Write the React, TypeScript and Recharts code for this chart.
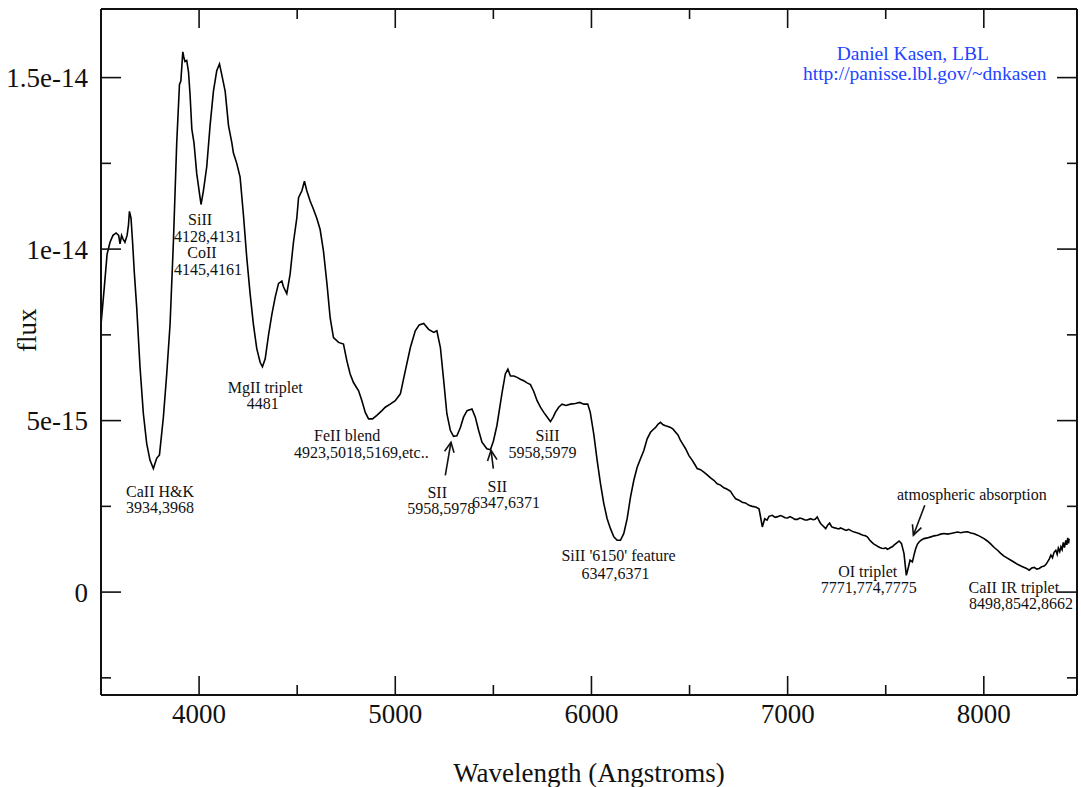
import React from 'react'
import { LineChart, Line, XAxis, YAxis, ReferenceDot, ReferenceLine } from 'recharts'

// Wavelength (Angstroms) and flux (in units of 1e-15)
const wavelengths = [
  3500, 3517, 3531, 3546, 3561, 3577, 3590, 3597, 3605, 3612, 3622, 3633, 3640, 3645, 3653, 3661, 3670, 3682, 3699, 3716,
  3733, 3750, 3767, 3775, 3784, 3798, 3818, 3835, 3852, 3869, 3886, 3900, 3907, 3917, 3922, 3928, 3937, 3946, 3954, 3963,
  3974, 3988, 4005, 4010, 4022, 4039, 4056, 4073, 4090, 4104, 4115, 4133, 4150, 4167, 4175, 4192, 4209, 4226, 4243, 4260,
  4277, 4294, 4311, 4323, 4337, 4354, 4371, 4388, 4405, 4422, 4430, 4447, 4464, 4481, 4498, 4507, 4524, 4537, 4549, 4566,
  4583, 4600, 4617, 4634, 4652, 4668, 4685, 4711, 4736, 4753, 4770, 4787, 4813, 4830, 4847, 4864, 4884, 4906, 4932, 4949,
  4974, 5000, 5026, 5051, 5077, 5102, 5122, 5145, 5170, 5196, 5212, 5230, 5247, 5263, 5281, 5297, 5314, 5332, 5348, 5366,
  5391, 5408, 5425, 5442, 5467, 5485, 5500, 5518, 5544, 5561, 5574, 5587, 5605, 5621, 5640, 5655, 5672, 5689, 5706, 5723,
  5740, 5757, 5775, 5791, 5805, 5816, 5833, 5850, 5870, 5893, 5918, 5940, 5961, 5981, 5994, 6012, 6029, 6046, 6063, 6080,
  6097, 6114, 6131, 6148, 6165, 6182, 6199, 6216, 6233, 6250, 6267, 6284, 6301, 6315, 6327, 6340, 6352, 6365, 6378, 6390,
  6403, 6416, 6429, 6441, 6454, 6467, 6480, 6497, 6514, 6527, 6539, 6556, 6573, 6590, 6607, 6624, 6641, 6658, 6675, 6692,
  6709, 6722, 6735, 6752, 6768, 6785, 6803, 6820, 6837, 6854, 6862, 6871, 6883, 6895, 6905, 6922, 6936, 6950, 6962, 6973,
  6987, 7000, 7012, 7023, 7037, 7050, 7062, 7075, 7088, 7100, 7117, 7130, 7140, 7151, 7160, 7168, 7182, 7194, 7204, 7214,
  7225, 7236, 7248, 7260, 7270, 7279, 7290, 7300, 7310, 7321, 7330, 7340, 7352, 7364, 7375, 7385, 7396, 7406, 7418, 7430,
  7440, 7449, 7460, 7470, 7480, 7491, 7500, 7508, 7517, 7525, 7535, 7542, 7555, 7568, 7580, 7593, 7605, 7614, 7624, 7636,
  7645, 7653, 7662, 7670, 7682, 7695, 7712, 7730, 7747, 7764, 7780, 7797, 7815, 7832, 7849, 7866, 7883, 7900, 7917, 7934,
  7951, 7968, 7985, 8001, 8018, 8036, 8053, 8070, 8086, 8103, 8120, 8138, 8155, 8172, 8189, 8206, 8218, 8231, 8244, 8257,
  8270, 8282, 8295, 8308, 8317, 8325, 8334, 8342, 8350, 8358, 8367, 8374, 8380, 8387, 8393, 8399, 8405, 8411, 8418, 8423,
  8428, 8432, 8435,
]
const flux = [
  7.8, 8.9, 9.85, 10.2, 10.4, 10.47, 10.4, 10.15, 10.4, 10.3, 10.2, 10.4, 10.7, 11.1, 10.9, 10.2, 9.3, 8.3, 6.55, 5.2,
  4.33, 3.84, 3.6, 3.75, 3.9, 4.0, 5.1, 6.36, 7.8, 10.2, 13.1, 14.8, 14.9, 15.75, 15.6, 15.47, 15.5, 15.17, 14.5, 13.5,
  13.1, 12.2, 11.5, 11.3, 11.7, 12.4, 13.6, 14.6, 15.2, 15.4, 15.1, 14.6, 13.6, 13.1, 12.8, 12.5, 12.1, 11.0, 9.75, 8.7,
  7.8, 7.1, 6.7, 6.57, 6.8, 7.5, 8.1, 8.6, 9.0, 9.07, 8.9, 8.7, 9.27, 10.2, 10.9, 11.5, 11.7, 11.98, 11.7, 11.4,
  11.16, 10.9, 10.57, 9.94, 8.98, 8.0, 7.42, 7.28, 7.23, 6.75, 6.36, 6.11, 5.87, 5.58, 5.24, 5.05, 5.05, 5.15, 5.29, 5.39,
  5.48, 5.58, 5.78, 6.45, 7.13, 7.62, 7.79, 7.83, 7.66, 7.57, 7.62, 7.13, 6.16, 5.2, 4.71, 4.54, 4.56, 4.8, 5.1, 5.29,
  5.34, 5.1, 4.71, 4.37, 4.18, 4.15, 4.4, 4.85, 5.8, 6.36, 6.5, 6.3, 6.3, 6.26, 6.2, 6.16, 6.1, 6.05, 5.85, 5.58,
  5.39, 5.24, 5.1, 4.97, 5.1, 5.24, 5.39, 5.48, 5.44, 5.48, 5.5, 5.53, 5.48, 5.48, 5.24, 4.6, 3.84, 3.16, 2.58, 2.14,
  1.85, 1.61, 1.51, 1.51, 1.71, 2.14, 2.77, 3.26, 3.64, 3.89, 4.13, 4.47, 4.66, 4.74, 4.8, 4.9, 4.95, 4.88, 4.85, 4.83,
  4.8, 4.75, 4.66, 4.58, 4.42, 4.3, 4.18, 3.98, 3.84, 3.72, 3.6, 3.57, 3.5, 3.42, 3.33, 3.26, 3.16, 3.12, 3.04, 3.0,
  2.94, 2.82, 2.72, 2.68, 2.62, 2.6, 2.53, 2.5, 2.48, 2.43, 2.19, 1.9, 2.14, 2.1, 2.21, 2.24, 2.18, 2.2, 2.23, 2.21,
  2.17, 2.16, 2.2, 2.17, 2.12, 2.12, 2.16, 2.14, 2.1, 2.1, 2.14, 2.11, 2.12, 2.19, 2.08, 2.0, 1.92, 1.85, 1.95, 2.01,
  1.9, 1.88, 1.86, 1.84, 1.87, 1.85, 1.82, 1.8, 1.83, 1.8, 1.77, 1.75, 1.73, 1.71, 1.68, 1.66, 1.64, 1.61, 1.52, 1.45,
  1.4, 1.37, 1.33, 1.3, 1.28, 1.27, 1.29, 1.25, 1.27, 1.3, 1.33, 1.37, 1.43, 1.49, 1.42, 1.13, 0.49, 0.69, 0.93, 0.88,
  1.1, 1.27, 1.4, 1.46, 1.52, 1.56, 1.58, 1.61, 1.64, 1.66, 1.69, 1.71, 1.69, 1.71, 1.73, 1.75, 1.73, 1.75, 1.76, 1.72,
  1.7, 1.66, 1.61, 1.56, 1.49, 1.4, 1.3, 1.22, 1.13, 1.05, 0.99, 0.93, 0.87, 0.81, 0.76, 0.72, 0.69, 0.64, 0.7, 0.72,
  0.67, 0.69, 0.74, 0.76, 0.81, 0.88, 0.97, 1.08, 1.0, 1.16, 1.22, 1.1, 1.28, 1.18, 1.32, 1.24, 1.45, 1.3, 1.51, 1.38,
  1.58, 1.42, 1.56,
]

const xTicks = [4000, 4500, 5000, 5500, 6000, 6500, 7000, 7500, 8000]
const yTicks = [-2.5, 0, 2.5, 5, 7.5, 10, 12.5, 15]
const yTickLabels: Record<string, string> = { '0': '0', '5': '5e-15', '10': '1e-14', '15': '1.5e-14' }

// line annotations: text, wavelength, flux (1e-15)
const labelTexts = [
  'SiII', '4128,4131', 'CoII', '4145,4161', 'MgII triplet', '4481', 'FeII blend', '4923,5018,5169,etc..',
  'CaII H&K', '3934,3968', 'SII', '5958,5978', 'SII', '6347,6371', 'SiII', '5958,5979',
  "SiII '6150' feature", '6347,6371', 'atmospheric absorption', 'OI triplet', '7771,774,7775',
  'CaII IR triplet', '8498,8542,8662',
]
const labelWl = [
  4005, 4046, 4015, 4046, 4337, 4324, 4755, 4827, 3801, 3801, 5214, 5235, 5520, 5565, 5776, 5750,
  6138, 6122, 7939, 7408, 7413, 8153, 8189,
]
const labelFlux = [
  10.87, 10.38, 9.9, 9.42, 5.96, 5.49, 4.56, 4.07, 2.94, 2.47, 2.91, 2.44, 3.08, 2.62, 4.56, 4.07,
  1.08, 0.55, 2.85, 0.61, 0.15, 0.15, -0.32,
]

const creditTexts = ['Daniel Kasen, LBL', 'http://panisse.lbl.gov/~dnkasen']
const creditWl = [7638, 7699]
const creditFlux = [15.7, 15.12]

// arrows: tail -> head
const arrowTailWl = [5255, 5500, 7699]
const arrowTailFlux = [3.4, 3.6, 2.53]
const arrowHeadWl = [5284, 5488, 7641]
const arrowHeadFlux = [4.37, 4.13, 1.66]

const data = wavelengths.map((wl, i) => ({ wl, flux: flux[i] }))

const FONT = '"Liberation Serif", "Times New Roman", serif'
const INK = '#111'

const BottomTick = (props: any) => {
  const { x, y, payload } = props
  const major = payload.value % 1000 === 0
  return (
    <g>
      <line x1={x} y1={y} x2={x} y2={y - (major ? 19 : 10)} stroke={INK} strokeWidth={1.6} />
      {major && (
        <text x={x} y={y + 28} textAnchor="middle" fontFamily={FONT} fontSize={27} fill={INK}>
          {payload.value}
        </text>
      )}
    </g>
  )
}

const TopTick = (props: any) => {
  const { x, y, payload } = props
  const major = payload.value % 1000 === 0
  return <line x1={x} y1={y} x2={x} y2={y + (major ? 19 : 10)} stroke={INK} strokeWidth={1.6} />
}

const LeftTick = (props: any) => {
  const { x, y, payload } = props
  const major = payload.value % 5 === 0
  const label = yTickLabels[String(payload.value)]
  return (
    <g>
      <line x1={x} y1={y} x2={x + (major ? 20 : 10)} y2={y} stroke={INK} strokeWidth={1.6} />
      {label && (
        <text x={x - 13} y={y} dy="0.35em" textAnchor="end" fontFamily={FONT} fontSize={27} fill={INK}>
          {label}
        </text>
      )}
    </g>
  )
}

const RightTick = (props: any) => {
  const { x, y, payload } = props
  const major = payload.value % 5 === 0
  return <line x1={x} y1={y} x2={x - (major ? 20 : 10)} y2={y} stroke={INK} strokeWidth={1.6} />
}

const textShape = (text: string, size: number, color: string) => (p: any) => (
  <text x={p.cx} y={p.cy} dy="0.35em" textAnchor="middle" fontFamily={FONT} fontSize={size} fill={color}>
    {text}
  </text>
)

const arrowShape = (p: any) => {
  const { x1, y1, x2, y2 } = p
  const ang = Math.atan2(y2 - y1, x2 - x1)
  const len = 11
  const spread = 0.45
  const ax = x2 - len * Math.cos(ang - spread)
  const ay = y2 - len * Math.sin(ang - spread)
  const bx = x2 - len * Math.cos(ang + spread)
  const by = y2 - len * Math.sin(ang + spread)
  return (
    <g stroke={INK} strokeWidth={1.6} fill="none">
      <line x1={x1} y1={y1} x2={x2} y2={y2} />
      <polyline points={`${ax},${ay} ${x2},${y2} ${bx},${by}`} />
    </g>
  )
}

export default function App() {
  return (
    <div style={{ position: 'absolute', left: 0, top: 0, width: 1081, height: 787, background: '#fff' }}>
      <LineChart width={1081} height={787} data={data} margin={{ top: 8, right: 3, left: 1, bottom: 32 }}>
        <XAxis
          xAxisId="b"
          dataKey="wl"
          type="number"
          domain={[3500, 8475]}
          allowDataOverflow
          ticks={xTicks}
          tick={<BottomTick />}
          tickSize={0}
          tickMargin={0}
          tickLine={false}
          height={60}
          axisLine={{ stroke: INK, strokeWidth: 2 }}
          label={{ value: 'Wavelength (Angstroms)', position: 'insideBottom', offset: -27, fontFamily: FONT, fontSize: 27, fill: INK }}
        />
        <XAxis
          xAxisId="t"
          orientation="top"
          dataKey="wl"
          type="number"
          domain={[3500, 8475]}
          allowDataOverflow
          ticks={xTicks}
          tick={<TopTick />}
          tickSize={0}
          tickMargin={0}
          tickLine={false}
          height={1}
          axisLine={{ stroke: INK, strokeWidth: 2 }}
        />
        <YAxis
          yAxisId="l"
          type="number"
          domain={[-3, 17]}
          allowDataOverflow
          ticks={yTicks}
          tick={<LeftTick />}
          tickSize={0}
          tickMargin={0}
          tickLine={false}
          width={100}
          axisLine={{ stroke: INK, strokeWidth: 2 }}
          label={{ value: 'flux', angle: -90, position: 'insideLeft', offset: 25, fontFamily: FONT, fontSize: 27, fill: INK }}
        />
        <YAxis
          yAxisId="r"
          orientation="right"
          type="number"
          domain={[-3, 17]}
          allowDataOverflow
          ticks={yTicks}
          tick={<RightTick />}
          tickSize={0}
          tickMargin={0}
          tickLine={false}
          width={1}
          axisLine={{ stroke: INK, strokeWidth: 2 }}
        />
        <Line
          xAxisId="b"
          yAxisId="l"
          type="linear"
          dataKey="flux"
          stroke="#000"
          strokeWidth={1.6}
          dot={false}
          isAnimationActive={false}
        />
        {labelTexts.map((t, i) => (
          <ReferenceDot
            key={'lab' + i}
            xAxisId="b"
            yAxisId="l"
            x={labelWl[i]}
            y={labelFlux[i]}
            r={0}
            ifOverflow="visible"
            shape={textShape(t, 16, INK)}
          />
        ))}
        {creditTexts.map((t, i) => (
          <ReferenceDot
            key={'cr' + i}
            xAxisId="b"
            yAxisId="l"
            x={creditWl[i]}
            y={creditFlux[i]}
            r={0}
            ifOverflow="visible"
            shape={textShape(t, 19.5, '#2244ff')}
          />
        ))}
        {arrowTailWl.map((w, i) => (
          <ReferenceLine
            key={'ar' + i}
            xAxisId="b"
            yAxisId="l"
            segment={[
              { x: w, y: arrowTailFlux[i] },
              { x: arrowHeadWl[i], y: arrowHeadFlux[i] },
            ]}
            ifOverflow="visible"
            shape={arrowShape}
          />
        ))}
      </LineChart>
    </div>
  )
}
